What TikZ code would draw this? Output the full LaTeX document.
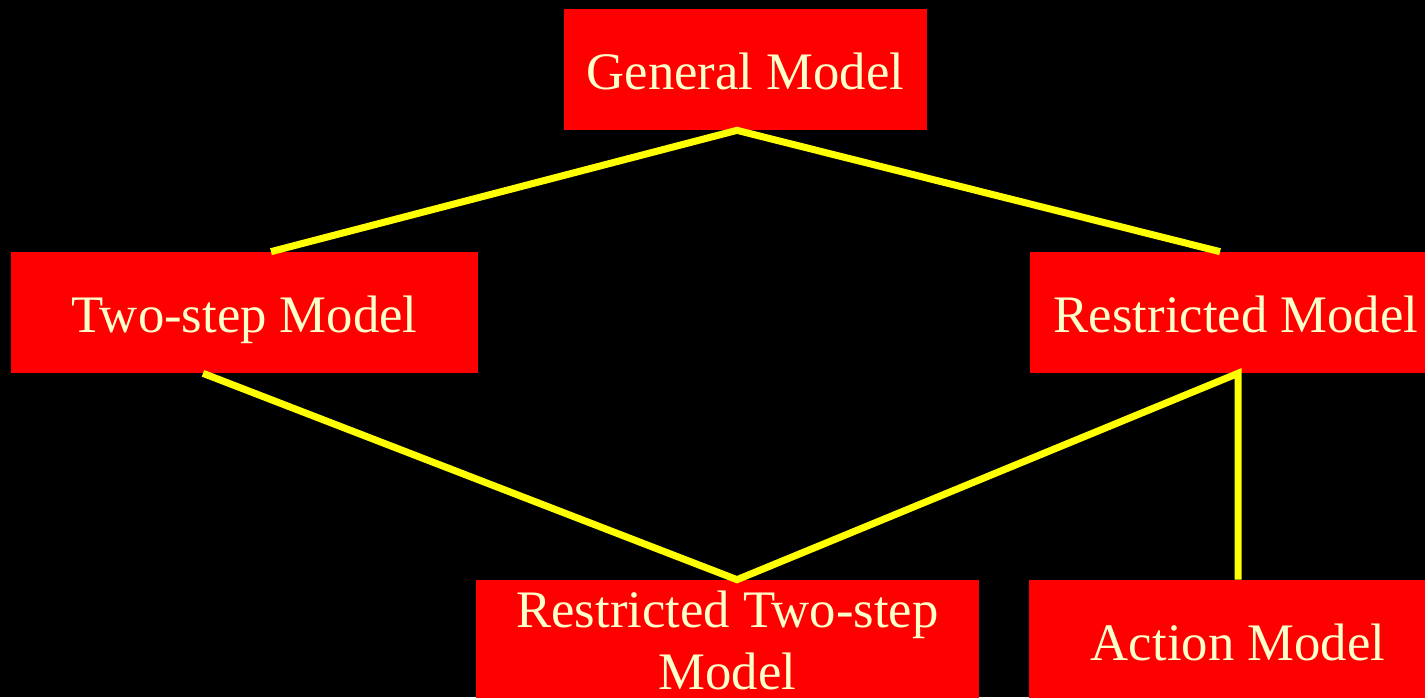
\documentclass[tikz,border=0pt]{standalone}
\usepackage{fontspec}
\setmainfont{Liberation Serif}

\definecolor{boxred}{HTML}{FF0000}
\definecolor{linkyellow}{HTML}{FFFF00}
\definecolor{labelcream}{HTML}{FFFFCC}

\tikzset{
  model/.style={fill=boxred, text=labelcream, minimum height=2.42cm, inner sep=0pt,
    align=center, font=\fontsize{30}{35.3}\selectfont},
  oneline/.style={text height=27pt, text depth=4.3pt},
  link/.style={draw=linkyellow, line width=4pt}
}

\begin{document}
\begin{tikzpicture}[x=0.02cm, y=-0.02cm]
    \fill[black] (0,0) rectangle (1425,697);
    \useasboundingbox (0,0) rectangle (1425,697);
    \node[model, oneline, minimum width=7.26cm] (gen) at (745.5,69.5) {General Model};
    \node[model, oneline, minimum width=9.34cm] (two) at (244.5,312.5) {Two-step Model};
    \node[model, oneline, minimum width=8.24cm] (restr) at (1236,312.5) {Restricted Model};
    \node[model, minimum width=10.06cm] (rts) at (727.5,640.5) {Restricted Two-step\\Model};
    \node[model, oneline, minimum width=8.36cm] (action) at (1238,640.5) {Action Model};
    % hierarchy links
    \draw[link] ([xshift=0.53cm]two.north) -- ([xshift=-0.17cm]gen.south) -- ([xshift=-0.32cm]restr.north);
    \draw[link] ([xshift=-0.83cm]two.south) -- ([xshift=0.19cm]rts.north) -- ([xshift=0.04cm]restr.south) -- (action.north);
\end{tikzpicture}
\end{document}
